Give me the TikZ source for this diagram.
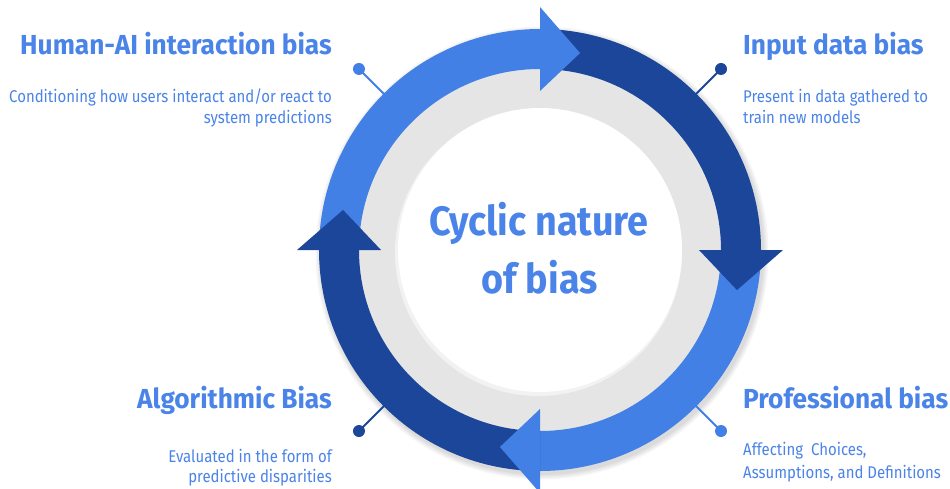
\documentclass[tikz,border=0pt]{standalone}
\usepackage{fontspec}
\setmainfont{Fira Sans}
\newfontfamily\headfont{Fira Sans}[FakeStretch=0.955]
\newfontfamily\descfont{Fira Sans}[FakeStretch=0.88]
\newfontfamily\ctrfont{Fira Sans}[FakeStretch=0.92]
\definecolor{lightb}{HTML}{4380E6}
\definecolor{darkb}{HTML}{1B4699}
\definecolor{txtb}{HTML}{4A84E8}
\definecolor{g1}{HTML}{E5E5E5}
\definecolor{g2}{HTML}{D2D2D2}
\pgfdeclareradialshading{greyring}{\pgfpoint{0bp}{0bp}}{color(0bp)=(g1); color(42bp)=(g1); color(50bp)=(g2)}
\tikzset{
  head/.style={font=\headfont\fontsize{27.5}{30}\selectfont\bfseries, text=txtb, inner sep=0pt},
  desc/.style={font=\descfont\fontsize{17}{20}\selectfont, text=txtb, inner sep=0pt},
  ctr/.style={font=\ctrfont\fontsize{41}{44}\selectfont\bfseries, text=txtb, inner sep=0pt, anchor=base},
  pin/.style={line width=2pt},
  shad/.style={fill=black, opacity=0.035},
}
\begin{document}
\begin{tikzpicture}[x=1pt,y=1pt]
\useasboundingbox (0,0) rectangle (950,488);
\fill[white] (0,0) rectangle (950,488);
\begin{scope}[shift={(540,238)}]
  % soft outer shadow of the ring
  \foreach \r in {222,223.5,225,226.5}{
    \fill[shad] (2,-3) circle (\r);
  }
  % grey disc with shadow near ring
  \shade[shading=greyring] (0,0) circle (182);
  % white disc
  \fill[black!5] (-1.5,-2.5) circle (143.5);
  \fill[white] (0,0) circle (142);
  % pins
  \draw[pin,lightb] (135:215) -- (135:256) coordinate (ptl);
  \fill[lightb] (ptl) circle (6);
  \draw[pin,darkb] (45:215) -- (45:256) coordinate (ptr);
  \fill[darkb] (ptr) circle (6);
  \draw[pin,darkb] (225:215) -- (225:256) coordinate (pbl);
  \fill[darkb] (pbl) circle (6);
  \draw[pin,lightb] (-45:215) -- (-45:256) coordinate (pbr);
  \fill[lightb] (pbr) circle (6);
  % bands
  \fill[lightb] (180:221) arc[start angle=180,end angle=90,radius=221] -- (90:181) arc[start angle=90,end angle=180,radius=181] -- cycle;
  \fill[darkb] (90:221) arc[start angle=90,end angle=0,radius=221] -- (0:181) arc[start angle=0,end angle=90,radius=181] -- cycle;
  \fill[lightb] (0:221) arc[start angle=0,end angle=-90,radius=221] -- (-90:181) arc[start angle=-90,end angle=0,radius=181] -- cycle;
  \fill[darkb] (-90:221) arc[start angle=-90,end angle=-180,radius=221] -- (-180:181) arc[start angle=-180,end angle=-90,radius=181] -- cycle;
  % heads
  \fill[lightb] (90:159) -- (90:243) -- (78.5:201) -- cycle;
  \fill[darkb] (0:159) -- (0:243) -- (-11.5:201) -- cycle;
  \fill[lightb] (-90:159) -- (-90:243) -- (-101.5:201) -- cycle;
  \fill[darkb] (180:159) -- (180:243) -- (168.5:201) -- cycle;
\end{scope}
% centre text
\node[ctr] (c1) at (539,253) {Cyclic nature};
\node[ctr] (c2) at (539.5,195) {of bias};
% top left
\node[head,anchor=base east] (t1) at (332,433) {Human-AI interaction bias};
\node[desc,anchor=base east] (d1a) at (332,385) {Conditioning how users interact and/or react to};
\node[desc,anchor=base east] (d1b) at (332,364) {system predictions};
% top right
\node[head,anchor=base west] (t2) at (743,433) {Input data bias};
\node[desc,anchor=base west] (d2a) at (743,385) {Present in data gathered to};
\node[desc,anchor=base west] (d2b) at (743,364) {train new models};
% bottom left
\node[head,anchor=base east] (t3) at (332,80) {Algorithmic Bias};
\node[desc,anchor=base east] (d3a) at (332,26) {Evaluated in the form of};
\node[desc,anchor=base east] (d3b) at (332,6) {predictive disparities};
% bottom right
\node[head,anchor=base west] (t4) at (743,80) {Professional bias};
\node[desc,anchor=base west] (d4a) at (743,33) {Affecting~~Choices,};
\node[desc,anchor=base west] (d4b) at (743,10) {Assumptions, and Definitions};
\end{tikzpicture}
\end{document}
